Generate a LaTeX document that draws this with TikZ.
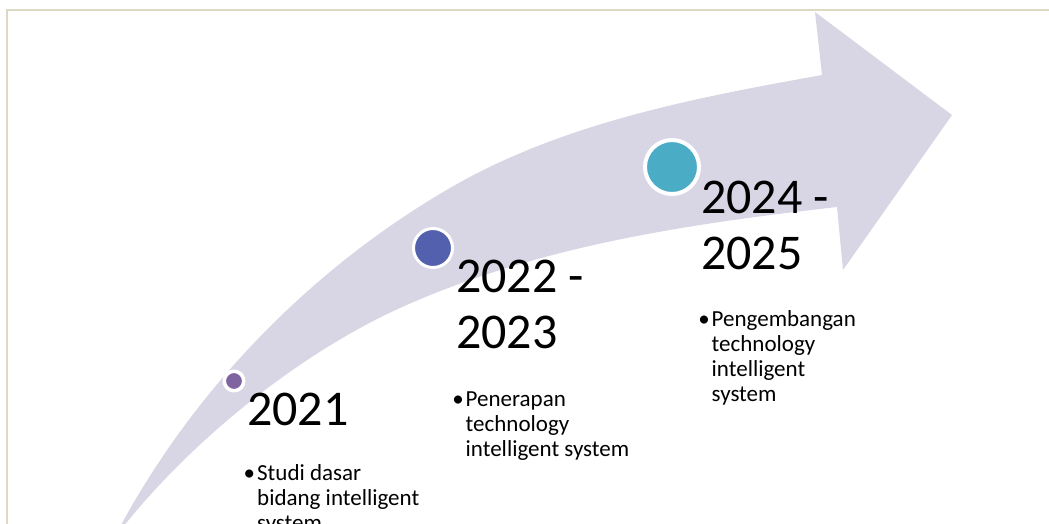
\documentclass[tikz,border=0pt]{standalone}
\usepackage{fontspec}
\setmainfont{Carlito}

\definecolor{arrowfill}{HTML}{D8D5E4}
\definecolor{framecol}{HTML}{DDD9C3}
\definecolor{dotone}{HTML}{8064A2}
\definecolor{dottwo}{HTML}{5360AE}
\definecolor{dotthree}{HTML}{4BACC6}

\tikzstyle{dot}=[circle,draw=white,inner sep=0pt]
\tikzstyle{year}=[anchor=base west,inner sep=0pt,text width=200pt,align=flush left,font=\fontsize{50}{56.7}\selectfont]
\tikzstyle{item}=[anchor=base west,inner sep=0pt,text width=220pt,align=flush left,font=\fontsize{23}{25}\selectfont]

\begin{document}
\begin{tikzpicture}[x=1pt, y=-1pt]
		\useasboundingbox (0,0) rectangle (1049,524);
		% frame
		\draw [framecol, line width=2pt] (7,524) -- (7,10) -- (1049,10);
		% curved arrow
		\fill [arrowfill] (113,540) .. controls (191,390) and (312,268) .. (450,188)
			.. controls (562,123) and (694,98) .. (822,75)
			-- (815,12) -- (952,115) -- (843,270) -- (837,207)
			.. controls (688,224) and (537,246) .. (400,308)
			.. controls (290,358) and (179,452) .. (113,540) -- cycle;

		\node [dot, fill=dotone,   line width=3.5pt, minimum size=19.5pt] (dot1) at (234,381) {};
		\node [dot, fill=dottwo,   line width=3pt,   minimum size=39pt]   (dot2) at (433,248) {};
		\node [dot, fill=dotthree, line width=4pt,   minimum size=54pt]   (dot3) at (672,167) {};

		\node [year] (y2021) at (247,425)   {2021};
		\node [year] (y2022) at (456,292)   {2022 -\\2023};
		\node [year] (y2024) at (701,213)   {2024 -\\2025};

		\node [item] (t2021) at (257,480)     {\llap{•\hspace{2pt}}Studi dasar\\bidang intelligent\\system};
		\node [item] (t2022) at (465.5,406.5) {\llap{•\hspace{2pt}}Penerapan\\technology\\intelligent system};
		\node [item] (t2024) at (711.5,326.7) {\llap{•\hspace{2pt}}Pengembangan\\technology\\intelligent\\system};
	\end{tikzpicture}
\end{document}
